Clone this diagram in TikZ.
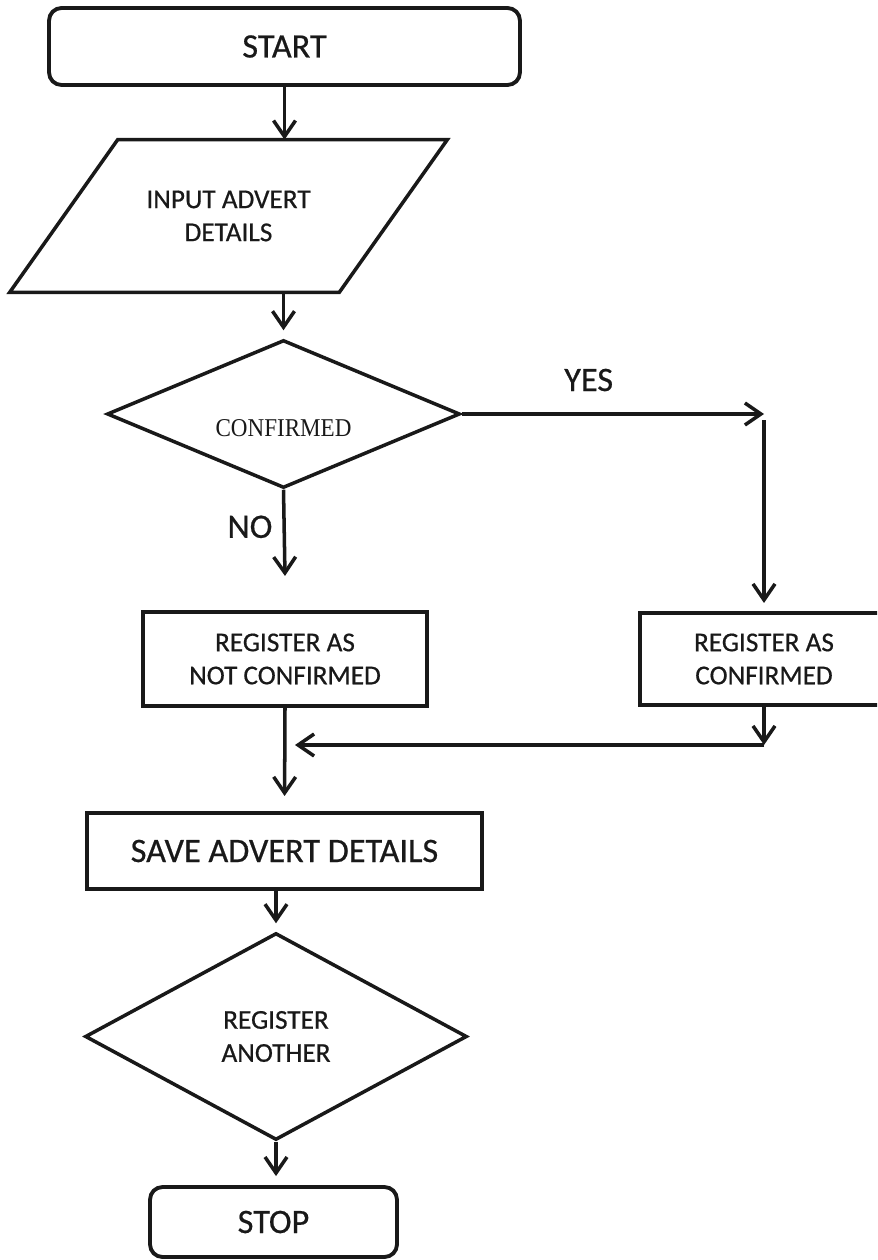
\documentclass[tikz,border=0pt]{standalone}
\usepackage{fontspec}
\setmainfont{Carlito}[FakeBold=0.6]
\newfontfamily\serifcond[FakeStretch=0.9]{Liberation Serif}
\usetikzlibrary{arrows.meta, positioning, calc}
\usetikzlibrary{shapes.geometric}

\begin{document}
\begin{tikzpicture}[x=0.02cm, y=-0.02cm,
  every node/.style={font=\fontsize{15.5}{18.8}\selectfont, text=black!90},
  >={Straight Barb[length=0.32cm, width=0.44cm]},
  flow/.style={->, line width=2pt, draw=black!90},
  big/.style={font=\fontsize{19.5}{23}\selectfont},
  term/.style={draw=black!90, rectangle, rounded corners=0.25cm, line width=2.2pt, inner sep=0pt, big},
  proc/.style={draw=black!90, rectangle, line width=2.3pt, align=center, inner sep=0pt},
  io/.style={rectangle, align=center, inner sep=0pt},
  decision/.style={draw=black!90, diamond, line width=2pt, align=center, inner sep=0pt},
  lbl/.style={inner sep=0pt, big}]
  \clip (0,0) rectangle (877,1260);

  % Start and input
  \node (start) [term, minimum width=9.42cm, minimum height=1.54cm] at (284.5,46.5) {START};
  \node (input) [io, minimum width=8.74cm, minimum height=3.04cm] at (228.5,216) {INPUT ADVERT\\DETAILS};
  \draw[line width=2pt, draw=black!90, line join=miter] (input.north east) -- ($(input.north west)+(108,0)$)
    -- (input.south west) -- ($(input.south east)+(-108,0)$) -- cycle;

  % First decision
  \node (confirmed) [decision, minimum width=7.06cm, minimum height=2.96cm] at (283.5,414)
    {\serifcond\fontsize{14.6}{17}\selectfont\raisebox{-0.45cm}[0pt][0pt]{CONFIRMED}};
  \coordinate (yes) at (764,414);

  % Register boxes
  \node (notconf) [proc, minimum width=5.68cm, minimum height=1.88cm] at (285,659) {REGISTER AS\\NOT CONFIRMED};
  \node (conf) [proc, minimum width=4.96cm, minimum height=1.84cm] at (764,659) {REGISTER AS\\CONFIRMED};
  \coordinate (merge) at (764,745);

  % Save, second decision, stop
  \node (save) [proc, big, minimum width=7.9cm, minimum height=1.52cm] at (284.5,851) {SAVE ADVERT DETAILS};
  \node (another) [decision, minimum width=7.64cm, minimum height=4.14cm] at (276,1036.5) {REGISTER\\ANOTHER};
  \node (stop) [term, minimum width=4.94cm, minimum height=1.4cm] at (273.5,1222) {STOP};

  % Arrows
  \draw[flow] (start.south) -- (start.south |- input.north);
  \draw[flow, shorten >=0.16cm] (input.south -| confirmed.north) -- (confirmed.north);
  \draw[flow] (confirmed.east) -- node[lbl, above=0.42cm, pos=0.42] {YES} (yes);
  \draw[flow, shorten >=0.16cm] ($(yes)+(0,6)$) -- (conf.north);
  \draw[flow] (confirmed.south) -- node[lbl, left=0.2cm, pos=0.43] {NO} ($(notconf.north)+(0,-34)$);
  \draw[flow] (conf.south) -- (merge);
  \draw[flow] (merge) -- ($(merge -| notconf.south)+(10,0)$);
  \draw[flow, shorten >=0.3cm] (notconf.south) -- (save.north);
  \draw[flow, shorten >=0.16cm] (save.south -| another.north) -- (another.north);
  \draw[flow, shorten >=0.18cm] (another.south) -- (another.south |- stop.north);
\end{tikzpicture}
\end{document}
